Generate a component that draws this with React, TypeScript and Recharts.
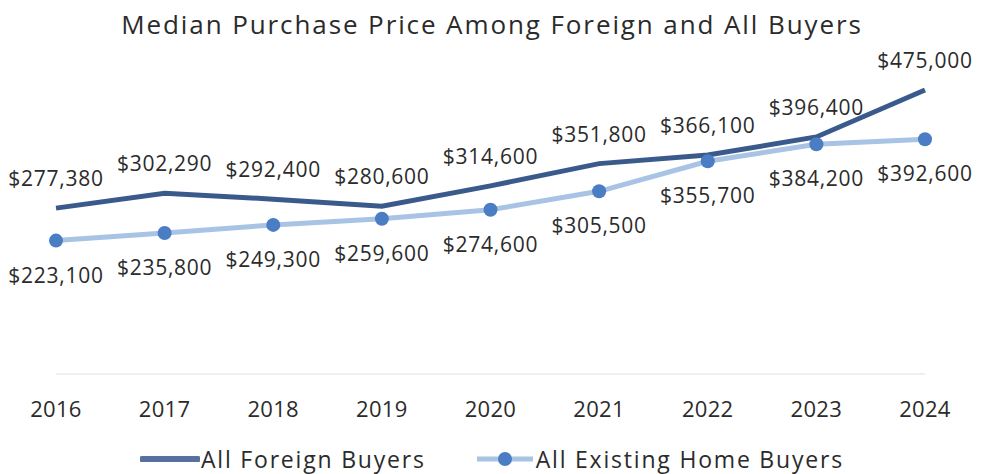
import React from "react";
import { LineChart, Line, XAxis, YAxis, LabelList } from "recharts";

const years = ["2016", "2017", "2018", "2019", "2020", "2021", "2022", "2023", "2024"];
const foreignBuyers = [277380, 302290, 292400, 280600, 314600, 351800, 366100, 396400, 475000];
const existingBuyers = [223100, 235800, 249300, 259600, 274600, 305500, 355700, 384200, 392600];

const TITLE = "Median Purchase Price Among Foreign and All Buyers";
const FOREIGN_NAME = "All Foreign Buyers";
const EXISTING_NAME = "All Existing Home Buyers";

const data = years.map((y, i) => ({ year: y, foreign: foreignBuyers[i], existing: existingBuyers[i] }));

const FONT = "'Open Sans', 'DejaVu Sans', sans-serif";
const TEXT = "#2b2b2b";
const DARK = "#3b5a8c";
const LIGHT = "#a9c3e4";
const DOT = "#4a7dc4";

const fmt = (v: number) => "$" + v.toLocaleString("en-US");

const makeLabel = (dy: number) => (props: any) => {
  const { x, y, value } = props;
  return (
    <text
      x={x}
      y={y + dy}
      textAnchor="middle"
      dominantBaseline="central"
      fontFamily={FONT}
      fontSize={21}
      letterSpacing={0.75}
      fill={TEXT}
    >
      {fmt(value)}
    </text>
  );
};

export default function App() {
  return (
    <div style={{ position: "relative", width: 985, height: 466, background: "#fff" }}>
      <div
        style={{
          position: "absolute",
          left: 0,
          top: 2,
          width: 968,
          height: 28,
          lineHeight: "28px",
          textAlign: "center",
          fontFamily: FONT,
          fontSize: 26,
          letterSpacing: 1.9,
          color: TEXT,
          whiteSpace: "nowrap",
        }}
      >
        {TITLE}
      </div>
      <LineChart
        width={985}
        height={466}
        data={data}
        margin={{ top: 67, right: 68, bottom: 70, left: 48 }}
      >
        <XAxis
          dataKey="year"
          axisLine={{ stroke: "#efefef", strokeWidth: 2 }}
          tickLine={false}
          tickMargin={21}
          tick={{ fontFamily: FONT, fontSize: 22, fill: TEXT, letterSpacing: 0.3 }}
          interval={0}
        />
        <YAxis hide domain={[0, 500000]} />
        <Line
          dataKey="foreign"
          name={FOREIGN_NAME}
          stroke={DARK}
          strokeWidth={5}
          dot={false}
          isAnimationActive={false}
        >
          <LabelList dataKey="foreign" content={makeLabel(-30)} />
        </Line>
        <Line
          dataKey="existing"
          name={EXISTING_NAME}
          stroke={LIGHT}
          strokeWidth={5}
          dot={{ r: 7, fill: DOT, stroke: DOT, strokeWidth: 0 }}
          isAnimationActive={false}
        >
          <LabelList dataKey="existing" content={makeLabel(34)} />
        </Line>
      </LineChart>
      <div
        style={{
          position: "absolute",
          left: 132,
          top: 439,
          height: 24,
          display: "flex",
          alignItems: "center",
          fontFamily: FONT,
          fontSize: 23,
          lineHeight: "24px",
          letterSpacing: 1.8,
          color: TEXT,
          whiteSpace: "nowrap",
        }}
      >
        <svg width={60} height={14} style={{ display: "block" }}>
          <line x1={2} y1={7} x2={58} y2={7} stroke="#56719e" strokeWidth={6} strokeLinecap="round" />
        </svg>
        <span style={{ marginLeft: 1, lineHeight: "24px" }}>{FOREIGN_NAME}</span>
        <svg width={60} height={16} style={{ display: "block", marginLeft: 49 }}>
          <line x1={2} y1={8} x2={58} y2={8} stroke={LIGHT} strokeWidth={5} />
          <circle cx={30} cy={8} r={7} fill={DOT} />
        </svg>
        <span style={{ marginLeft: 1, lineHeight: "24px" }}>{EXISTING_NAME}</span>
      </div>
    </div>
  );
}
